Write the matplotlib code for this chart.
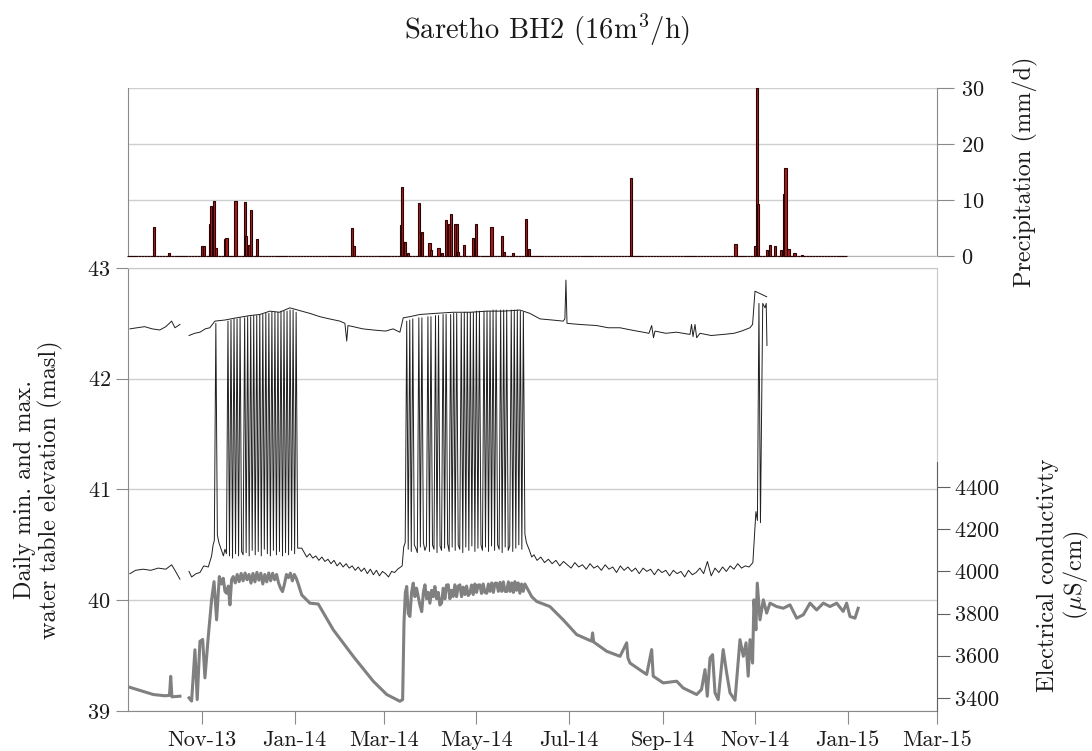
import numpy as np
import pandas as pd
import matplotlib
matplotlib.use('Agg')
import matplotlib.pyplot as plt
import matplotlib.dates as mdates

plt.rcParams['font.family'] = ['cmr10', 'DejaVu Serif']
plt.rcParams['mathtext.fontset'] = 'cm'
plt.rcParams['axes.formatter.use_mathtext'] = True

# time axis: days since start of record
t0 = pd.Timestamp('2013-09-13')
x_end = pd.Timestamp('2015-03-01')
nan = np.nan

# daily precipitation record length (days) and rainy days (mm/d)
precip_record_days = 475
rain_days = [17, 27, 49, 50, 54, 55, 57, 58, 64, 65, 71, 77, 78, 80, 81, 85,
             148, 149, 180, 181, 182, 183, 185, 192, 194, 199, 200, 205, 207,
             210, 212, 213, 216, 217, 218, 222, 228, 230, 240, 247, 248, 254,
             263, 265, 332, 401, 414, 415, 416, 422, 424, 427, 431, 433, 434,
             436, 440, 445]
rain_mm = [5.2, 0.5, 1.8, 1.8, 5.7, 8.9, 9.9, 1.5, 3.0, 3.2, 9.9, 9.7, 3.6, 2.0, 8.2, 3.0,
           5.0, 1.7, 5.5, 12.4, 2.5, 2.5, 0.5, 9.5, 4.2, 2.4, 1.0, 1.5, 0.5,
           6.4, 5.7, 7.5, 5.8, 5.8, 0.8, 2.0, 3.2, 5.8, 5.2, 3.5, 0.8, 0.5,
           6.6, 1.2, 14.0, 2.1, 1.7, 30.0, 9.3, 1.0, 1.9, 1.7, 1.0, 11.1, 15.8,
           1.3, 0.6, 0.2]

# daily max water table (masl)
wl_max_days = [1.3, 6, 11, 16, 21, 25, 28.8, 31, 34.3, 37, 40.3, 44, 47.5, 51, 54, 57.4,
               64, 71.7, 80.5, 87, 93.7, 100, 106.9, 114.7, 120, 126.7, 133, 139.9,
               143.2, 144.4, 145.2, 148.7, 155, 161.9, 170, 175, 179.5, 181.7, 186,
               192.7, 203, 214.7, 226, 236.8, 248, 258.7, 265.3, 272, 280, 287.3, 288.4,
               289.1, 289.8, 298, 309.4, 317, 324.8, 332, 340.1, 343.9, 345.7, 346.9,
               347.9, 355, 362, 371, 372, 373, 374.3, 375.4, 377.6, 385, 393, 400,
               405, 410.6, 412.3, 413.9, 421.6]
wl_max = [42.45, 42.46, 42.47, 42.45, 42.44, 42.47, 42.52, 42.46, 42.49, nan,
          42.39, 42.41, 42.42, 42.45, 42.46, 42.52, 42.53, 42.55, 42.57, 42.58,
          42.61, 42.60, 42.64, 42.61, 42.59, 42.56, 42.54, 42.52, 42.50, 42.34,
          42.48, 42.47, 42.45, 42.44, 42.43, 42.45, 42.42, 42.55, 42.56, 42.58,
          42.59, 42.60, 42.60, 42.61, 42.61, 42.62, 42.59, 42.54, 42.53, 42.52,
          42.54, 42.89, 42.50, 42.49, 42.48, 42.46, 42.46, 42.44, 42.42, 42.41,
          42.48, 42.37, 42.43, 42.41, 42.42, 42.40, 42.49, 42.38, 42.49, 42.37,
          42.41, 42.39, 42.40, 42.41, 42.43, 42.46, 42.49, 42.79, 42.74]

# daily min water table (masl)
wl_min_a_days = [1.3, 5, 10, 15, 20, 25, 28.8, 31, 34.3, 37, 40.3, 42, 45, 47.5,
                 50, 53, 55.2, 56.2]
wl_min_a = [40.24, 40.27, 40.28, 40.27, 40.29, 40.28, 40.32, 40.27, 40.19, nan,
            40.26, 40.21, 40.24, 40.25, 40.31, 40.30, 40.40, 40.50]
wl_min_p1_start = 57   # first pumping period, one value per day
wl_min_p1 = [40.54, 42.50, 40.59, 40.52, 40.48, 40.44, 40.40, 40.46, 40.42, 42.52,
             40.40, 42.53, 40.38, 42.54, 40.42, 42.54, 40.40, 42.55, 40.44, 40.41,
             42.55, 40.43, 42.56, 40.40, 42.56, 40.45, 42.57, 40.41, 42.57, 40.44,
             42.58, 40.40, 42.58, 40.46, 42.59, 40.42, 42.59, 40.40, 42.60, 40.45,
             42.60, 40.41, 42.60, 40.44, 42.61, 40.40, 42.61, 40.43, 42.61, 40.41,
             42.62, 40.45, 42.62, 40.42, 42.60, 40.47]
wl_min_b_days = [114.7, 118, 120, 122, 124, 126, 128, 130, 132, 134, 136, 138, 140,
                 142, 144, 146, 148, 150, 152, 154, 156, 158, 160, 162, 164, 166,
                 168, 170, 172, 174, 176, 178, 181]
wl_min_b = [40.47, 40.39, 40.42, 40.38, 40.40, 40.36, 40.39, 40.35, 40.37, 40.33,
            40.36, 40.31, 40.34, 40.30, 40.33, 40.29, 40.31, 40.27, 40.30, 40.26,
            40.29, 40.24, 40.28, 40.23, 40.27, 40.22, 40.26, 40.24, 40.21, 40.26,
            40.25, 40.28, 40.31]
wl_min_p2_start = 182  # second pumping period, one value per day
wl_min_p2 = [40.48, 40.52, 42.52, 40.46, 42.53, 40.44, 42.54, 40.50, 40.47, 40.43,
             42.55, 40.48, 42.55, 40.52, 40.45, 40.49, 42.56, 40.44, 42.56, 40.50,
             40.46, 42.57, 40.43, 42.57, 40.49, 40.45, 42.58, 40.47, 42.58, 40.51,
             40.44, 42.58, 40.48, 42.59, 40.45, 42.59, 40.50, 40.46, 42.59, 40.43,
             42.60, 40.48, 42.60, 40.45, 42.60, 40.49, 42.60, 40.44, 42.61, 40.47,
             42.61, 40.50, 40.45, 42.61, 40.48, 42.61, 40.44, 42.61, 40.49, 42.62,
             40.45, 42.62, 40.50, 40.46, 42.62, 40.43, 42.62, 40.48, 42.62, 40.45,
             40.49, 42.62, 40.44, 42.62, 40.47, 42.62, 40.50, 42.61, 40.46, 42.60,
             40.60, 40.52]
wl_min_c_days = [265, 266.5, 268, 270, 272.5, 275, 277.5, 280, 282.5, 285, 287.5,
                 290, 292.5, 295, 297.5, 300, 302.5, 305, 307.5, 310, 312.5, 315,
                 317.5, 320, 322.5, 325, 327.5, 330, 332.5, 335, 337.5, 340, 342.5,
                 345, 347.5, 350, 352.5, 355, 357.5, 360, 362.5, 365, 367.5, 370,
                 372.5, 375, 377.5, 380, 382.5, 385, 387.5, 390, 392.5, 395, 397.5,
                 400, 402.5, 405, 407.5, 410, 412.5, 414.5, 415.5, 416.5, 417.5,
                 419, 420.5, 421.3, 421.8]
wl_min_c = [40.45, 40.39, 40.41, 40.36, 40.39, 40.34, 40.37, 40.33, 40.36, 40.31,
            40.35, 40.32, 40.29, 40.34, 40.30, 40.32, 40.28, 40.33, 40.29, 40.31,
            40.27, 40.32, 40.28, 40.30, 40.25, 40.31, 40.27, 40.30, 40.26, 40.29,
            40.24, 40.29, 40.26, 40.28, 40.23, 40.28, 40.25, 40.27, 40.22, 40.27,
            40.24, 40.26, 40.21, 40.27, 40.23, 40.25, 40.29, 40.24, 40.35, 40.22,
            40.29, 40.25, 40.30, 40.26, 40.31, 40.28, 40.33, 40.29, 40.31, 40.30,
            40.34, 40.80, 40.72, 42.68, 40.70, 42.68, 42.64, 42.68, 42.30]

# electrical conductivity (uS/cm), by section of the record
ec_a_days = [1.3, 16.7, 24.4, 27.4, 28.2, 29, 34.3, 37, 40.3, 42, 44.2, 45.7, 47.5,
             49.3, 50.8, 53]
ec_a = [3450, 3416, 3410, 3412, 3502, 3405, 3408, nan, 3400, 3385, 3628, 3392, 3668,
        3677, 3495, 3691]
ec_p1_days = [55.2, 56.8, 58.5, 60.3, 61.6, 62.9, 64.0, 65.1, 66.2, 67.3,
              68.4, 69.5, 70.8, 72.1, 73.4, 74.7, 76.0, 77.3, 78.6, 79.9,
              81.2, 82.5, 83.8, 85.1, 86.4, 87.7, 89.0, 90.3, 91.6, 92.9,
              94.2, 95.5, 96.8, 98.1, 99.4, 100.7, 102.0, 103.3, 104.6, 105.9,
              107.2, 108.5, 109.8, 111.1, 112.4, 114.7]
ec_p1 = [3865, 3951, 3770, 3975, 3940, 3967, 3905, 3896, 3930, 3841,
         3960, 3975, 3945, 3985, 3951, 3990, 3955, 3992, 3960, 3985,
         3944, 3990, 3950, 3995, 3958, 3991, 3940, 3985, 3950, 3992,
         3955, 3991, 3960, 3985, 3945, 3920, 3904, 3940, 3985, 3970,
         3991, 3955, 3985, 3967, 3940, 3888]
ec_b_days = [120.1, 125.6, 135.5, 148.7, 161.9, 170.8, 179.5]
ec_b = [3849, 3845, 3723, 3597, 3479, 3416, 3384]
ec_p2_days = [181.3, 182.2, 183.1, 184.0, 185.0, 186.1, 187.2, 188.3, 189.4, 190.5,
              191.6, 192.7, 193.9, 195.0, 196.0, 197.1, 198.2, 199.3, 200.4, 201.5,
              202.6, 203.7, 204.8, 205.9, 207.0, 208.1, 209.2, 210.3, 211.4, 212.5,
              213.6, 214.7, 215.8, 216.9, 218.0, 219.1, 220.2, 221.3, 222.4, 223.5,
              224.6, 225.7, 226.8, 227.9, 229.0, 230.1, 231.2, 232.3, 233.4, 234.5,
              235.6, 236.8, 237.9, 239.0, 240.1, 241.2, 242.3, 243.4, 244.5, 245.6,
              246.7, 247.8, 248.9, 250.0, 251.1, 252.2, 253.3, 254.4, 255.4, 256.5,
              257.6, 258.7, 259.8, 260.9, 262.0, 263.5, 266.5]
ec_p2 = [3392, 3755, 3900, 3928, 3800, 3786, 3900, 3944, 3880, 3920,
         3881, 3840, 3809, 3900, 3936, 3870, 3900, 3849, 3910, 3880,
         3928, 3870, 3900, 3840, 3849, 3920, 3870, 3935, 3936, 3870,
         3910, 3881, 3936, 3880, 3930, 3936, 3880, 3925, 3890, 3930,
         3885, 3896, 3935, 3890, 3940, 3900, 3935, 3936, 3895, 3940,
         3900, 3896, 3940, 3905, 3945, 3900, 3944, 3944, 3905, 3948,
         3905, 3950, 3905, 3904, 3950, 3905, 3945, 3900, 3951, 3910,
         3945, 3896, 3940, 3905, 3940, 3920, 3880]
ec_c_days = [269.8, 278.5, 287.3, 296.2, 306, 306.7, 307.4, 316, 324.8, 329.2,
             330, 331.4, 342.4, 345.7, 346.7, 353.3, 362.2, 366.5, 375.4, 378.6,
             380.9, 382.4, 384.2, 385.9, 387.5, 389.6, 392.9, 395.2, 397.4, 400.7,
             404, 406.2, 408, 409.4, 410.6, 412.3, 413.2, 414.5, 415.4, 417.2,
             419.4, 421.6, 423.8, 428.2, 432.6, 437, 441.4, 445.8, 450.2, 454.6,
             459, 463.4, 467.8, 472.1, 474.4, 476.6, 479.9, 482]
ec_c = [3857, 3833, 3770, 3700, 3669, 3708, 3665, 3621, 3597, 3661,
        3590, 3565, 3511, 3629, 3503, 3471, 3479, 3447, 3416, 3440,
        3534, 3408, 3589, 3605, 3424, 3392, 3629, 3518, 3424, 3389,
        3676, 3597, 3661, 3503, 3676, 3565, 3865, 3723, 3944, 3770,
        3865, 3802, 3849, 3833, 3825, 3841, 3778, 3794, 3849, 3817,
        3849, 3833, 3849, 3810, 3849, 3786, 3778, 3825]


def to_dates(days):
    return t0 + pd.to_timedelta(np.asarray(days, dtype=float), unit='D')


precip = np.zeros(precip_record_days)
precip[rain_days] = rain_mm
precip_dates = to_dates(np.arange(precip_record_days))

wl_min_days = np.concatenate([wl_min_a_days,
                              wl_min_p1_start + np.arange(len(wl_min_p1)),
                              wl_min_b_days,
                              wl_min_p2_start + np.arange(len(wl_min_p2)),
                              wl_min_c_days])
wl_min = np.concatenate([wl_min_a, wl_min_p1, wl_min_b, wl_min_p2, wl_min_c])
ec_days = np.concatenate([ec_a_days, ec_p1_days, ec_b_days, ec_p2_days, ec_c_days])
ec = np.concatenate([ec_a, ec_p1, ec_b, ec_p2, ec_c])

spine_c = '#8a8a8a'
grid_c = '#cfcfcf'
txt_c = '#1a1a1a'

fig = plt.figure(figsize=(10.92, 7.51), dpi=100)
ax_p = fig.add_axes([0.1172, 0.6591, 0.7408, 0.2237])
ax = fig.add_axes([0.1172, 0.0533, 0.7408, 0.5899])
ax2 = ax.twinx()

# precipitation panel (zero days draw the dark baseline through their edges)
ax_p.bar(precip_dates, precip, width=1.4, color='#a81c1c', edgecolor='#2a0404',
         linewidth=0.8, zorder=3, clip_on=False)
ax_p.set_xlim(t0, x_end)
ax_p.set_ylim(0, 30)
ax_p.set_yticks([0, 10, 20, 30])
ax_p.grid(axis='y', color=grid_c, lw=1)
ax_p.set_axisbelow(True)
ax_p.set_xticks([])
ax_p.yaxis.tick_right()
ax_p.tick_params(axis='y', length=12, color=spine_c, labelsize=16, labelcolor=txt_c, pad=5)
for s in ['left', 'right']:
    ax_p.spines[s].set_color(spine_c)
ax_p.spines['top'].set_visible(False)
ax_p.spines['bottom'].set_color('#b5b5b5')
ax_p.set_ylabel('Precipitation (mm/d)', fontsize=17.5, color=txt_c)
ax_p.yaxis.set_label_position('right')
ax_p.yaxis.set_label_coords(1.094, 0.5)

# water table panel
ax.plot(to_dates(wl_max_days), wl_max, color='#202020', lw=0.7, zorder=3)
ax.plot(to_dates(wl_min_days), wl_min, color='#202020', lw=0.7, zorder=3)
ax.set_xlim(t0, x_end)
ax.set_ylim(39, 43)
ax.set_yticks([39, 40, 41, 42, 43])
ax.grid(axis='y', color=grid_c, lw=1)
ax.set_axisbelow(True)
ax.xaxis.set_major_locator(mdates.MonthLocator(bymonth=[1, 3, 5, 7, 9, 11]))
ax.xaxis.set_major_formatter(mdates.DateFormatter('%b-%y'))
ax.tick_params(axis='both', length=9, color=spine_c, labelsize=16, labelcolor=txt_c)
ax.tick_params(axis='x', pad=5)
for s in ['left', 'bottom']:
    ax.spines[s].set_color(spine_c)
for s in ['top', 'right']:
    ax.spines[s].set_color('#c8c8c8')
ax.set_ylabel('Daily min. and max.\nwater table elevation (masl)', fontsize=17.5,
              color=txt_c, linespacing=1.1)
ax.yaxis.set_label_coords(-0.080, 0.5)

# electrical conductivity on the secondary axis
ax2.plot(to_dates(ec_days), ec, color='#808080', lw=2.2, zorder=2)
ax2.set_ylim(3338, 5438)
ax2.set_yticks([3400, 3600, 3800, 4000, 4200, 4400])
ax2.tick_params(axis='y', length=9, color='#606060', labelsize=16, labelcolor=txt_c)
ax2.spines['right'].set_color('#606060')
ax2.spines['right'].set_bounds(3338, 4520)
for s in ['top', 'left', 'bottom']:
    ax2.spines[s].set_visible(False)
ax2.set_ylabel('Electrical conductivty\n($\\mu$S/cm)', fontsize=17.5, color=txt_c,
               linespacing=1.1)
ax2.yaxis.set_label_coords(1.124, 0.307)

fig.text(0.501, 0.960, 'Saretho BH2 (16m$^3$/h)', ha='center', va='center',
         fontsize=20.5, color=txt_c)

fig.savefig('out.png', dpi=100)
